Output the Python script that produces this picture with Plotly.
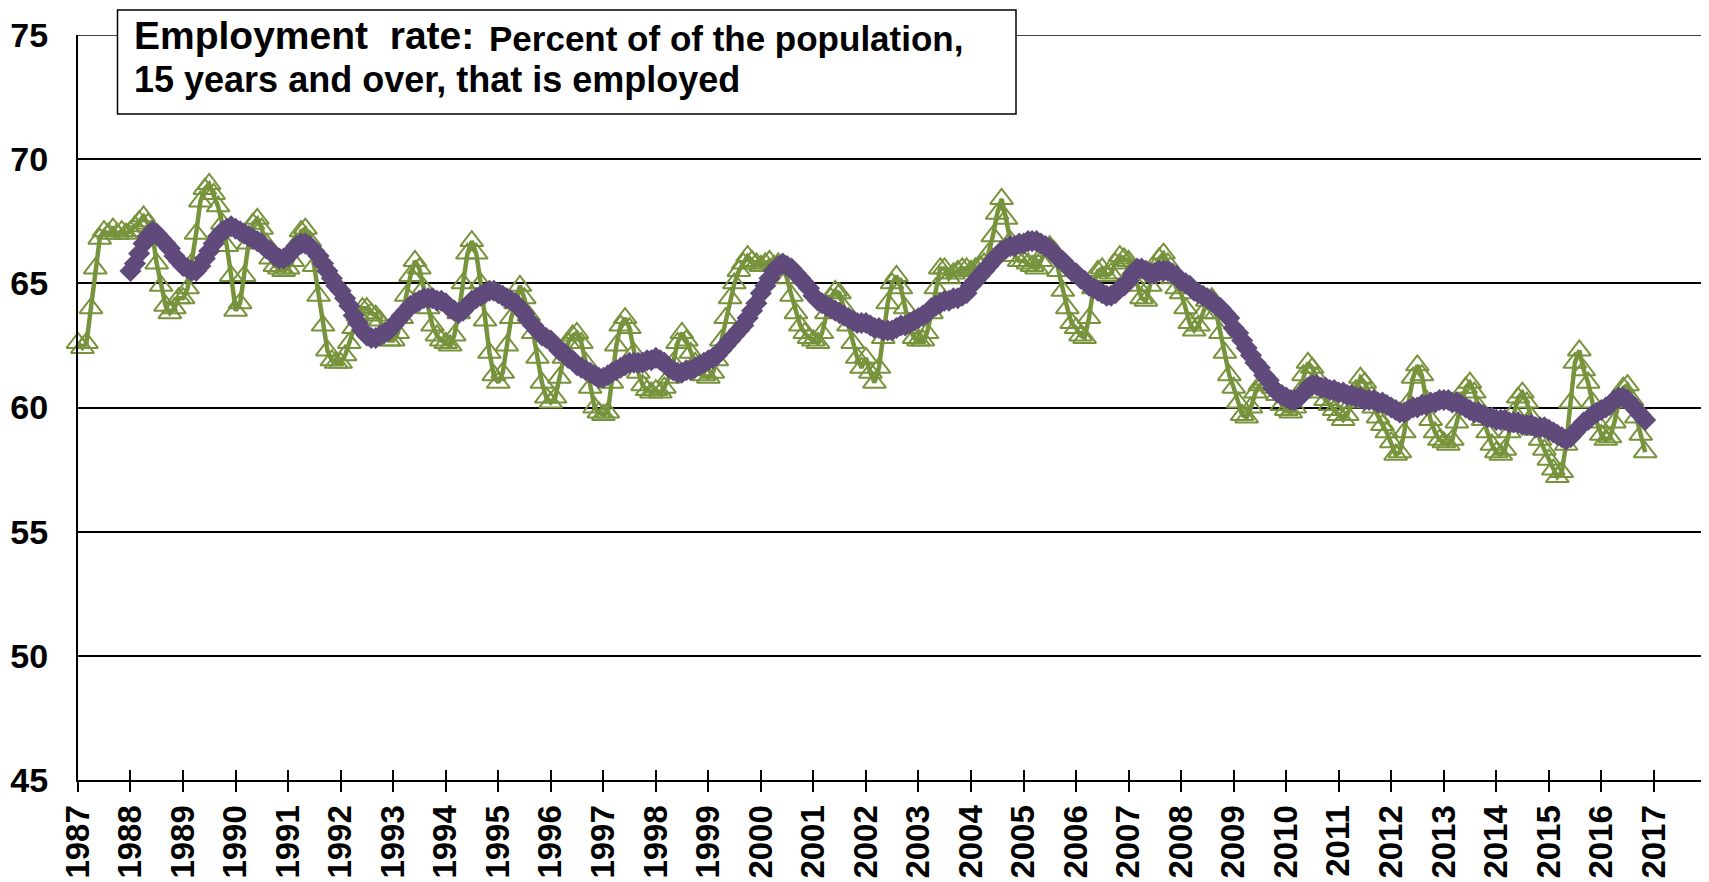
import pandas as pd
import plotly.graph_objects as go

# Monthly employment rate (percent), Jan 1987 - Nov 2016
first_month_rate = "1987-01-01"
employment_rate = [
    62.6, 62.4, 62.6, 64.0, 65.6, 66.8, 67.1, 67.0, 67.2, 67.0, 67.1, 67.0,  # 1987
    67.1, 67.3, 67.5, 67.7, 67.4, 67.0, 65.8, 64.9, 64.1, 63.8, 64.0, 64.4,  # 1988
    64.4, 64.8, 65.8, 67.0, 68.3, 68.8, 69.0, 68.6, 68.1, 67.4, 66.5, 65.3,  # 1989
    63.9, 64.2, 65.3, 66.6, 67.4, 67.6, 67.2, 66.6, 66.0, 65.7, 65.6, 65.5,  # 1990
    65.6, 65.9, 66.6, 67.1, 67.2, 66.7, 65.7, 64.5, 63.3, 62.3, 61.9, 61.8,  # 1991
    61.8, 62.1, 62.6, 63.2, 63.7, 64.0, 64.0, 63.8, 63.7, 63.5, 63.0, 62.7,  # 1992
    62.7, 63.0, 63.6, 64.5, 65.3, 65.9, 65.6, 64.8, 64.0, 63.3, 62.9, 62.7,  # 1993
    62.6, 62.5, 62.9, 63.8, 65.0, 66.2, 66.7, 66.2, 65.0, 63.5, 62.2, 61.3,  # 1994
    61.0, 61.4, 62.5, 63.6, 64.2, 64.9, 64.4, 63.7, 63.0, 62.0, 61.0, 60.4,  # 1995
    60.2, 60.4, 61.2, 62.0, 62.6, 62.9, 63.0, 62.6, 61.8, 60.8, 60.0, 59.8,  # 1996
    59.7, 59.8, 61.0, 62.5, 63.3, 63.6, 63.2, 62.2, 61.4, 60.9, 60.7, 60.6,  # 1997
    60.7, 60.6, 60.8, 61.2, 61.8, 62.6, 63.0, 62.7, 62.2, 61.8, 61.5, 61.3,  # 1998
    61.2, 61.4, 61.9, 62.7, 63.6, 64.4, 65.0, 65.5, 65.8, 66.1, 65.9, 65.8,  # 1999
    65.7, 65.8, 65.9, 65.7, 65.8, 65.6, 65.2, 64.5, 63.8, 63.3, 63.0, 62.8,  # 2000
    62.7, 62.6, 63.0, 63.8, 64.4, 64.7, 64.6, 64.0, 63.3, 62.6, 62.0, 61.6,  # 2001
    62.0, 61.4, 61.0, 61.6, 62.8, 64.2, 65.0, 65.3, 64.8, 64.0, 63.2, 62.8,  # 2002
    62.7, 62.7, 63.0, 63.8, 64.8, 65.6, 65.6, 65.2, 65.4, 65.5, 65.6, 65.6,  # 2003
    65.5, 65.6, 65.7, 65.8, 66.2, 66.9, 67.8, 68.4, 67.6, 66.7, 66.1, 65.9,  # 2004
    65.9, 65.8, 65.7, 65.6, 65.9, 66.3, 66.5, 66.3, 65.5, 64.7, 64.0, 63.4,  # 2005
    63.2, 62.9, 62.8, 63.6, 64.8, 65.5, 65.6, 65.3, 65.4, 65.8, 66.1, 66.0,  # 2006
    65.9, 65.5, 64.9, 64.4, 64.3, 64.9, 65.6, 66.0, 66.2, 65.8, 65.2, 64.8,  # 2007
    64.6, 64.0, 63.4, 63.1, 63.3, 63.8, 64.3, 64.4, 63.8, 63.0, 62.2, 61.3,  # 2008
    60.8, 60.2, 59.7, 59.6, 60.0, 60.6, 60.9, 61.0, 60.9, 60.8, 60.5, 60.1,  # 2009
    59.9, 59.8, 60.0, 60.6, 61.3, 61.8, 61.6, 61.2, 60.6, 60.3, 60.1, 59.9,  # 2010
    59.7, 59.5, 59.7, 60.2, 60.7, 61.2, 61.0, 60.6, 60.0, 59.6, 59.3, 59.0,  # 2011
    58.6, 58.1, 58.2, 59.0, 60.2, 61.2, 61.7, 61.3, 60.3, 59.5, 59.0, 58.7,  # 2012
    58.6, 58.5, 58.7, 59.4, 60.2, 60.8, 61.0, 60.6, 60.0, 59.5, 59.0, 58.5,  # 2013
    58.2, 58.1, 58.3, 59.0, 59.8, 60.4, 60.6, 60.2, 59.6, 59.1, 58.7, 58.3,  # 2014
    57.9, 57.5, 57.2, 57.4, 58.5, 60.2, 61.8, 62.3, 61.5, 61.0, 60.2, 59.4,  # 2015
    58.9, 58.7, 58.8, 59.4, 60.2, 60.8, 60.9, 60.3, 59.6, 58.9, 58.2,        # 2016
]

# 12-month moving average, Jan 1988 - Nov 2016
first_month_avg = "1988-01-01"
moving_average = [
    65.5, 65.8, 66.2, 66.6, 66.9, 67.1, 67.0, 66.8, 66.6, 66.4, 66.1, 65.9,  # 1988
    65.7, 65.6, 65.5, 65.5, 65.7, 66.0, 66.3, 66.6, 66.9, 67.1, 67.2, 67.3,  # 1989
    67.2, 67.1, 67.0, 66.9, 66.8, 66.7, 66.6, 66.4, 66.3, 66.1, 66.0, 66.0,  # 1990
    66.1, 66.3, 66.5, 66.6, 66.6, 66.5, 66.3, 66.1, 65.8, 65.5, 65.2, 64.9,  # 1991
    64.7, 64.4, 64.1, 63.7, 63.4, 63.1, 62.9, 62.8, 62.8, 62.9, 63.0, 63.1,  # 1992
    63.3, 63.5, 63.7, 63.9, 64.1, 64.2, 64.3, 64.4, 64.4, 64.4, 64.3, 64.3,  # 1993
    64.2, 64.0, 63.9, 63.8, 63.9, 64.1, 64.3, 64.4, 64.5, 64.6, 64.7, 64.7,  # 1994
    64.6, 64.5, 64.4, 64.3, 64.2, 64.0, 63.8, 63.5, 63.3, 63.1, 62.9, 62.8,  # 1995
    62.7, 62.5, 62.3, 62.2, 62.0, 61.9, 61.7, 61.6, 61.5, 61.4, 61.3, 61.2,  # 1996
    61.2, 61.3, 61.4, 61.5, 61.6, 61.7, 61.8, 61.8, 61.8, 61.8, 61.9, 61.9,  # 1997
    62.0, 61.9, 61.8, 61.6, 61.5, 61.4, 61.4, 61.5, 61.5, 61.6, 61.7, 61.8,  # 1998
    61.9, 62.0, 62.1, 62.3, 62.5, 62.7, 62.9, 63.1, 63.3, 63.6, 63.9, 64.2,  # 1999
    64.6, 64.9, 65.2, 65.5, 65.7, 65.8, 65.7, 65.6, 65.4, 65.2, 65.0, 64.8,  # 2000
    64.5, 64.3, 64.2, 64.1, 64.0, 63.9, 63.8, 63.7, 63.6, 63.5, 63.4, 63.4,  # 2001
    63.4, 63.3, 63.2, 63.2, 63.1, 63.1, 63.1, 63.2, 63.3, 63.3, 63.4, 63.5,  # 2002
    63.6, 63.7, 63.8, 64.0, 64.1, 64.2, 64.3, 64.3, 64.4, 64.4, 64.5, 64.6,  # 2003
    64.9, 65.1, 65.3, 65.5, 65.7, 65.9, 66.1, 66.3, 66.4, 66.5, 66.5, 66.6,  # 2004
    66.6, 66.7, 66.7, 66.7, 66.6, 66.5, 66.4, 66.2, 66.0, 65.9, 65.7, 65.5,  # 2005
    65.4, 65.2, 65.1, 64.9, 64.8, 64.7, 64.6, 64.5, 64.5, 64.6, 64.8, 64.9,  # 2006
    65.1, 65.4, 65.6, 65.6, 65.5, 65.4, 65.4, 65.5, 65.5, 65.5, 65.4, 65.3,  # 2007
    65.1, 65.0, 64.9, 64.7, 64.6, 64.5, 64.4, 64.3, 64.1, 64.0, 63.8, 63.6,  # 2008
    63.2, 63.0, 62.7, 62.4, 62.1, 61.8, 61.6, 61.3, 61.1, 60.8, 60.6, 60.5,  # 2009
    60.4, 60.3, 60.3, 60.4, 60.6, 60.8, 60.9, 60.9, 60.8, 60.8, 60.7, 60.7,  # 2010
    60.6, 60.6, 60.5, 60.5, 60.4, 60.4, 60.3, 60.3, 60.3, 60.2, 60.2, 60.1,  # 2011
    60.0, 59.9, 59.8, 59.8, 59.9, 60.0, 60.0, 60.1, 60.1, 60.2, 60.2, 60.3,  # 2012
    60.3, 60.3, 60.2, 60.2, 60.1, 60.0, 59.9, 59.8, 59.8, 59.7, 59.6, 59.6,  # 2013
    59.5, 59.5, 59.5, 59.4, 59.4, 59.4, 59.3, 59.3, 59.3, 59.2, 59.2, 59.2,  # 2014
    59.1, 59.0, 58.9, 58.8, 58.7, 58.8, 59.0, 59.2, 59.4, 59.5, 59.7, 59.8,  # 2015
    59.9, 60.0, 60.1, 60.3, 60.4, 60.4, 60.3, 60.1, 59.9, 59.7, 59.5,        # 2016
]

y_ticks = [45, 50, 55, 60, 65, 70, 75]
x_range = ["1987-01-01", "2017-12-01"]
title_main = "Employment\u00a0 rate:"
title_rest = "Percent of of the population,"
title_line2 = "15 years and over, that is employed"

months_rate = pd.date_range(first_month_rate, periods=len(employment_rate), freq="MS")
months_avg = pd.date_range(first_month_avg, periods=len(moving_average), freq="MS")

GREEN = "#77933C"
PURPLE = "#604A7B"
FONT = "Liberation Sans, Arial, sans-serif"

# the page body adds an 8px offset; the figure is sized so the plot lands
# at screen x 78..1702, y 35..780
OFF = 8
W, H = 1709 - OFF, 882 - OFF
L, R, T, B = 78 - OFF, 7, 35 - OFF, 102
pw, ph = W - L - R, H - T - B


def px(x):  # screen pixel -> paper x
    return (x - OFF - L) / pw


def py(y):  # screen pixel -> paper y
    return (H - B - (y - OFF)) / ph


fig = go.Figure()
fig.add_trace(go.Scatter(
    x=months_rate, y=employment_rate, mode="lines+markers",
    line=dict(color=GREEN, width=4.5),
    marker=dict(symbol="triangle-up-open", size=20, color=GREEN, line=dict(width=2, color=GREEN)),
    cliponaxis=False, showlegend=False,
))
fig.add_trace(go.Scatter(
    x=months_avg, y=moving_average, mode="lines+markers",
    line=dict(color=PURPLE, width=7),
    marker=dict(symbol="diamond", size=17, color=PURPLE),
    cliponaxis=False, showlegend=False,
))
# empty trace carrying the inner half of the crossing x ticks
fig.add_trace(go.Scatter(x=[], y=[], xaxis="x2", yaxis="y", showlegend=False, hoverinfo="skip"))

# top gridline at 75
fig.add_shape(type="line", xref="paper", yref="y", x0=0, x1=1, y0=y_ticks[-1], y1=y_ticks[-1],
              line=dict(color="black", width=1.5), layer="below")

# title box
fig.add_shape(type="rect", xref="paper", yref="paper",
              x0=px(117.5), x1=px(1016), y0=py(10), y1=py(114),
              line=dict(color="black", width=1.5), fillcolor="white", layer="above")
fig.add_annotation(xref="paper", yref="paper", x=px(132), y=py(36), xanchor="left", yanchor="middle",
                   text="<b>" + title_main + "</b>", showarrow=False,
                   font=dict(family=FONT, size=39, color="black"))
fig.add_annotation(xref="paper", yref="paper", x=px(487), y=py(38), xanchor="left", yanchor="middle",
                   text="<b>" + title_rest + "</b>", showarrow=False,
                   font=dict(family=FONT, size=35, color="black"))
fig.add_annotation(xref="paper", yref="paper", x=px(132), y=py(79), xanchor="left", yanchor="middle",
                   text="<b>" + title_line2 + "</b>", showarrow=False,
                   font=dict(family=FONT, size=36, color="black"))

fig.update_layout(
    width=W, height=H,
    margin=dict(l=L, r=R, t=T, b=B, autoexpand=False),
    paper_bgcolor="white", plot_bgcolor="white",
    font=dict(family=FONT, color="black"),
    xaxis=dict(
        type="date", range=x_range, automargin=False,
        tick0="1987-01-01", dtick="M12", tickformat="%Y",
        tickangle=-90, ticks="outside", ticklen=10, tickwidth=2, tickcolor="black",
        showline=True, linecolor="black", linewidth=2, showgrid=False, zeroline=False,
        tickfont=dict(family=FONT, size=33, color="black", weight="bold"),
        ticklabelstandoff=0,
    ),
    xaxis2=dict(
        type="date", range=x_range, overlaying="x", anchor="y", side="bottom",
        tick0="1987-01-01", dtick="M12", ticks="inside", ticklen=10, tickwidth=2, tickcolor="black",
        showticklabels=False, showgrid=False, zeroline=False, showline=False, automargin=False,
    ),
    yaxis=dict(
        range=[45, 75], tickvals=y_ticks, ticks="", automargin=False,
        showline=True, linecolor="black", linewidth=2,
        showgrid=True, gridcolor="black", gridwidth=1.5, zeroline=False,
        tickfont=dict(family=FONT, size=34, color="black", weight="bold"),
        ticklabelstandoff=21,
    ),
)

fig.write_html("out.html")
